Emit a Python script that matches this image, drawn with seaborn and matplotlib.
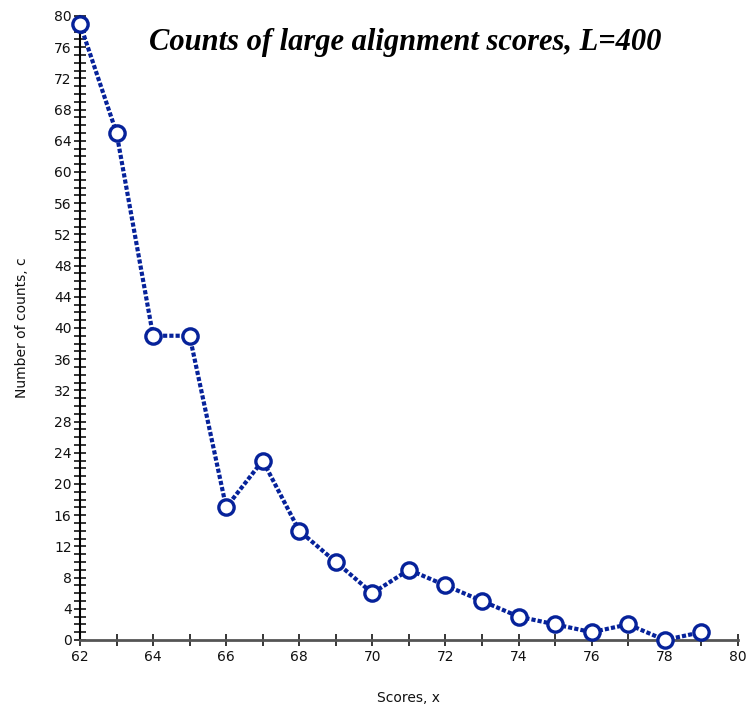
import matplotlib
matplotlib.use("Agg")
import matplotlib.pyplot as plt
from matplotlib.ticker import MultipleLocator
import seaborn as sns
import pandas as pd

# Alignment score histogram tail
scores = [62, 63, 64, 65, 66, 67, 68, 69, 70, 71, 72, 73, 74, 75, 76, 77, 78, 79]
counts = [79, 65, 39, 39, 17, 23, 14, 10, 6, 9, 7, 5, 3, 2, 1, 2, 0, 1]

title = "Counts of large alignment scores, L=400"
xlabel = "Scores, x"
ylabel = "Number of counts, c"

sns.set_style("white")
plt.rcParams["font.family"] = ["DejaVu Sans"]

df = pd.DataFrame({"score": scores, "count": counts})

fig = plt.figure(figsize=(7.51, 7.10), dpi=100)
ax = fig.add_axes([0.1065, 0.0986, 0.876, 0.879])

navy = "#06229a"
sns.lineplot(data=df, x="score", y="count", ax=ax, color=navy,
             linewidth=3, linestyle=(0, (1.0, 0.5)),
             marker="o", markersize=11, markerfacecolor="white",
             markeredgecolor=navy, markeredgewidth=2.4, clip_on=False,
             zorder=5)

ax.set_xlim(62, 80)
ax.set_ylim(0, 80)
ax.xaxis.set_major_locator(MultipleLocator(2))
ax.xaxis.set_minor_locator(MultipleLocator(1))
ax.yaxis.set_major_locator(MultipleLocator(4))
ax.yaxis.set_minor_locator(MultipleLocator(1))

for s in ("top", "right"):
    ax.spines[s].set_visible(False)
ax.spines["left"].set_color("black")
ax.spines["left"].set_linewidth(1.5)
ax.spines["bottom"].set_color("#555555")
ax.spines["bottom"].set_linewidth(2)

ax.tick_params(axis="both", which="both", direction="inout", color="black",
               width=1.1, labelsize=10, labelcolor="#111111")
ax.tick_params(axis="x", which="both", bottom=True, length=8, pad=3)
ax.tick_params(axis="y", which="both", left=True, length=8, pad=2)

ax.set_xlabel(xlabel, fontsize=10, labelpad=20, color="#111111")
ax.set_ylabel(ylabel, fontsize=10, labelpad=18, color="#111111")

ax.text(0.494, 0.957, title, transform=ax.transAxes, ha="center", va="center",
        fontsize=22, fontweight="bold", fontstyle="italic", color="black",
        family=["Liberation Serif"])

fig.savefig("out.png", dpi=100, facecolor="white")
